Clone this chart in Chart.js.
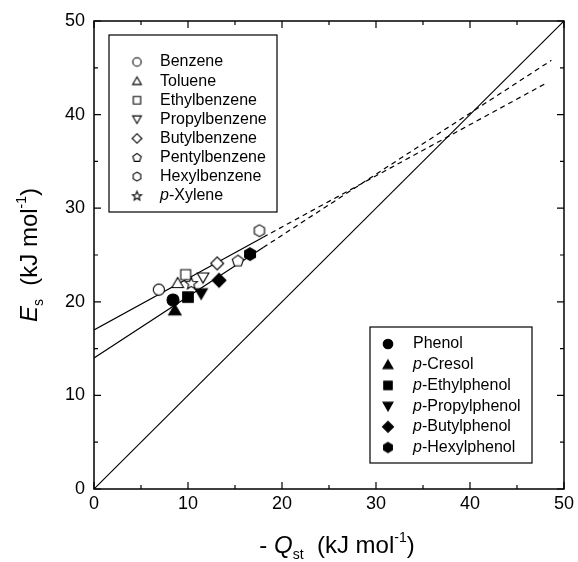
<!DOCTYPE html>
<html>
<head>
<meta charset="utf-8">
<script src="https://cdn.jsdelivr.net/npm/chart.js@4"></script>
<style>
html, body { margin: 0; padding: 0; background: #fff; }
#wrap { width: 578px; height: 562px; }
</style>
</head>
<body>
<div id="wrap"><canvas id="chart" width="578" height="562"></canvas></div>
<script>
// Alkylbenzenes (open symbols)
var benzeneNames = ['Benzene', 'Toluene', 'Ethylbenzene', 'Propylbenzene', 'Butylbenzene', 'Pentylbenzene', 'Hexylbenzene', 'p-Xylene'];
var benzeneQ = [6.9, 8.9, 9.75, 11.6, 13.1, 15.3, 17.6, 10.35];
var benzeneE = [21.3, 22.0, 22.9, 22.6, 24.1, 24.4, 27.6, 22.0];
var benzeneShapes = ['circle', 'triangle', 'square', 'triangleDown', 'diamond', 'pentagon', 'hexagon', 'star'];

// Alkylphenols (filled symbols)
var phenolNames = ['Phenol', 'p-Cresol', 'p-Ethylphenol', 'p-Propylphenol', 'p-Butylphenol', 'p-Hexylphenol'];
var phenolQ = [8.4, 8.6, 10.0, 11.4, 13.3, 16.6];
var phenolE = [20.2, 19.1, 20.5, 20.9, 22.3, 25.1];
var phenolShapes = ['circle', 'triangle', 'square', 'triangleDown', 'diamond', 'hexagon'];

// Fitted lines: solid part up to index 1, dashed extrapolation after
var benzeneFitQ = [0, 18, 48];
var benzeneFitE = [17.0, 26.9, 43.3];
var phenolFitQ = [0, 18, 48.66];
var phenolFitE = [14.0, 25.8, 45.8];
// Es = -Qst
var diagQ = [0, 50];
var diagE = [0, 50];

var xTicks = [0, 10, 20, 30, 40, 50];
var yTicks = [0, 10, 20, 30, 40, 50];

var FONT = "'Liberation Sans', Arial, sans-serif";

function toPoints(xs, ys) {
    return xs.map(function (x, i) { return { x: x, y: ys[i] }; });
}

function shapePath(g, shape, r) {
    var pts = [];
    var i, a;
    if (shape === 'circle') {
        g.arc(0, 0, r, 0, Math.PI * 2);
        return;
    }
    if (shape === 'square') {
        g.rect(-r * 0.88, -r * 0.88, r * 1.76, r * 1.76);
        return;
    }
    if (shape === 'triangle') {
        for (i = 0; i < 3; i++) { a = -Math.PI / 2 + i * 2 * Math.PI / 3; pts.push([Math.cos(a) * r * 1.2, Math.sin(a) * r * 1.2 + r * 0.2]); }
    } else if (shape === 'triangleDown') {
        for (i = 0; i < 3; i++) { a = Math.PI / 2 + i * 2 * Math.PI / 3; pts.push([Math.cos(a) * r * 1.2, Math.sin(a) * r * 1.2 - r * 0.2]); }
    } else if (shape === 'diamond') {
        for (i = 0; i < 4; i++) { a = i * Math.PI / 2; pts.push([Math.cos(a) * r * 1.15, Math.sin(a) * r * 1.15]); }
    } else if (shape === 'pentagon') {
        for (i = 0; i < 5; i++) { a = -Math.PI / 2 + i * 2 * Math.PI / 5; pts.push([Math.cos(a) * r * 1.05, Math.sin(a) * r * 1.05 + r * 0.08]); }
    } else if (shape === 'hexagon') {
        for (i = 0; i < 6; i++) { a = -Math.PI / 2 + i * Math.PI / 3; pts.push([Math.cos(a) * r * 1.05, Math.sin(a) * r * 1.05]); }
    } else if (shape === 'star') {
        for (i = 0; i < 10; i++) {
            a = -Math.PI / 2 + i * Math.PI / 5;
            var rr = i % 2 === 0 ? r * 1.15 : r * 0.5;
            pts.push([Math.cos(a) * rr, Math.sin(a) * rr + r * 0.1]);
        }
    }
    g.moveTo(pts[0][0], pts[0][1]);
    for (i = 1; i < pts.length; i++) g.lineTo(pts[i][0], pts[i][1]);
    g.closePath();
}

// Marker drawn into a small canvas, used as pointStyle and in the legends
function marker(shape, filled, r) {
    var c = document.createElement('canvas');
    var s = Math.ceil(r * 2 + 6);
    c.width = s;
    c.height = s;
    var g = c.getContext('2d');
    g.translate(s / 2, s / 2);
    g.beginPath();
    shapePath(g, shape, r);
    g.fillStyle = filled ? '#000' : '#fff';
    g.fill();
    g.lineWidth = 1.1;
    g.strokeStyle = '#000';
    g.stroke();
    return c;
}

var datasets = [];
benzeneNames.forEach(function (name, i) {
    datasets.push({
        type: 'scatter', label: name, order: 0,
        data: [{ x: benzeneQ[i], y: benzeneE[i] }],
        pointStyle: marker(benzeneShapes[i], false, 5.6)
    });
});
phenolNames.forEach(function (name, i) {
    datasets.push({
        type: 'scatter', label: name, order: 0,
        data: [{ x: phenolQ[i], y: phenolE[i] }],
        pointStyle: marker(phenolShapes[i], true, 6)
    });
});

function fitLine(xs, ys) {
    return {
        type: 'line', order: 1,
        data: toPoints(xs, ys),
        borderColor: '#000', borderWidth: 1.2, pointRadius: 0, fill: false,
        segment: { borderDash: function (ctx) { return ctx.p0DataIndex >= 1 ? [5, 4] : undefined; } }
    };
}
datasets.push(fitLine(benzeneFitQ, benzeneFitE));
datasets.push(fitLine(phenolFitQ, phenolFitE));
datasets.push({
    type: 'line', order: 1,
    data: toPoints(diagQ, diagE),
    borderColor: '#000', borderWidth: 1.1, pointRadius: 0, fill: false
});

// Text with italic letters, subscripts and superscripts
function richWidth(ctx, parts) {
    var w = 0;
    parts.forEach(function (p) {
        ctx.font = (p.italic ? 'italic ' : '') + p.size + 'px ' + FONT;
        w += ctx.measureText(p.t).width;
    });
    return w;
}
function drawRich(ctx, parts, x, y, align) {
    var cx = x;
    if (align === 'center') cx = x - richWidth(ctx, parts) / 2;
    ctx.textAlign = 'left';
    parts.forEach(function (p) {
        ctx.font = (p.italic ? 'italic ' : '') + p.size + 'px ' + FONT;
        ctx.fillText(p.t, cx, y + (p.dy || 0));
        cx += ctx.measureText(p.t).width;
    });
}
function nameParts(name, size) {
    if (name.indexOf('p-') === 0) {
        return [{ t: 'p', italic: true, size: size }, { t: name.slice(1), size: size }];
    }
    return [{ t: name, size: size }];
}

var framePlugin = {
    id: 'frame',
    afterDraw: function (chart) {
        var ctx = chart.ctx;
        var a = chart.chartArea;
        var xs = chart.scales.x;
        var ys = chart.scales.y;
        ctx.save();
        ctx.strokeStyle = '#000';
        ctx.fillStyle = '#000';
        ctx.lineWidth = 1.5;
        ctx.strokeRect(a.left, a.top, a.right - a.left, a.bottom - a.top);

        // inward ticks on all four sides
        ctx.lineWidth = 1.2;
        ctx.beginPath();
        for (var v = 0; v <= 50; v += 5) {
            var len = v % 10 === 0 ? 7 : 4;
            var px = xs.getPixelForValue(v);
            var py = ys.getPixelForValue(v);
            ctx.moveTo(px, a.bottom); ctx.lineTo(px, a.bottom - len);
            ctx.moveTo(px, a.top); ctx.lineTo(px, a.top + len);
            ctx.moveTo(a.left, py); ctx.lineTo(a.left + len, py);
            ctx.moveTo(a.right, py); ctx.lineTo(a.right - len, py);
        }
        ctx.stroke();

        // axis titles
        ctx.textBaseline = 'alphabetic';
        drawRich(ctx, [
            { t: '- ', size: 24 },
            { t: 'Q', italic: true, size: 24 },
            { t: 'st', size: 14, dy: 6 },
            { t: '  (kJ mol', size: 24 },
            { t: '-1', size: 14, dy: -11 },
            { t: ')', size: 24 }
        ], (a.left + a.right) / 2 + 8, 553, 'center');

        ctx.save();
        ctx.translate(37, (a.top + a.bottom) / 2);
        ctx.rotate(-Math.PI / 2);
        drawRich(ctx, [
            { t: 'E', italic: true, size: 24 },
            { t: 's', size: 14, dy: 6 },
            { t: '  (kJ mol', size: 24 },
            { t: '-1', size: 14, dy: -11 },
            { t: ')', size: 24 }
        ], 0, 0, 'center');
        ctx.restore();

        // legend boxes
        ctx.lineWidth = 1.2;
        ctx.fillStyle = '#fff';
        ctx.fillRect(109, 35, 168, 177);
        ctx.strokeRect(109, 35, 168, 177);
        ctx.fillRect(370, 327, 162, 136);
        ctx.strokeRect(370, 327, 162, 136);
        ctx.fillStyle = '#000';
        ctx.textBaseline = 'middle';
        benzeneNames.forEach(function (name, i) {
            var y = 62 + i * 19.1;
            var m = marker(benzeneShapes[i], false, 4.2);
            ctx.drawImage(m, 137 - m.width / 2, y - m.height / 2);
            drawRich(ctx, nameParts(name, 16), 160, y, 'left');
        });
        phenolNames.forEach(function (name, i) {
            var y = 344 + i * 20.7;
            var m = marker(phenolShapes[i], true, 4.8);
            ctx.drawImage(m, 388 - m.width / 2, y - m.height / 2);
            drawRich(ctx, nameParts(name, 16), 413, y, 'left');
        });
        ctx.restore();
    }
};

new Chart(document.getElementById('chart'), {
    data: { datasets: datasets },
    options: {
        responsive: false,
        animation: false,
        layout: { padding: { top: 21, right: 12, left: 0, bottom: 0 } },
        plugins: { legend: { display: false }, tooltip: { enabled: false } },
        scales: {
            x: {
                type: 'linear', min: 0, max: 50,
                afterBuildTicks: function (s) { s.ticks = xTicks.map(function (v) { return { value: v }; }); },
                afterFit: function (s) { s.height = 73; },
                ticks: { color: '#000', font: { family: FONT, size: 18 }, padding: 4, maxRotation: 0 },
                grid: { display: false, drawTicks: false },
                border: { display: false }
            },
            y: {
                type: 'linear', min: 0, max: 50,
                afterBuildTicks: function (s) { s.ticks = yTicks.map(function (v) { return { value: v }; }); },
                afterFit: function (s) { s.width = 94; },
                ticks: { color: '#000', font: { family: FONT, size: 18 }, padding: 9 },
                grid: { display: false, drawTicks: false },
                border: { display: false }
            }
        }
    },
    plugins: [framePlugin]
});
</script>
</body>
</html>
